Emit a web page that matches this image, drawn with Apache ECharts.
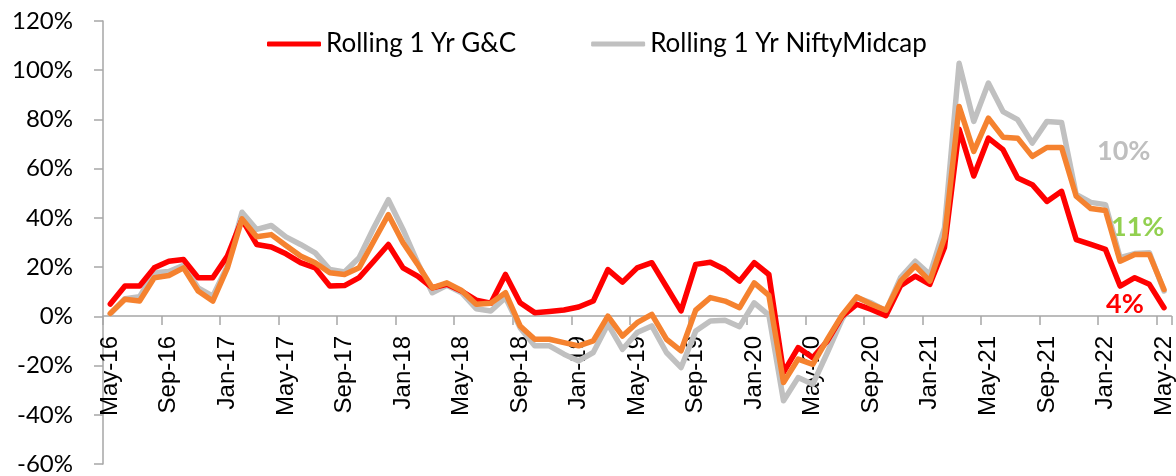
<!DOCTYPE html>
<html>
<head>
<meta charset="utf-8">
<script src="https://cdn.jsdelivr.net/npm/echarts@6/dist/echarts.min.js"></script>
<style>
  html, body { margin: 0; padding: 0; background: #fff; }
  #chart { width: 1176px; height: 476px; }
</style>
</head>
<body>
<div id="chart"></div>
<script>
// month labels May-16 .. May-22
const monthNames = ['Jan','Feb','Mar','Apr','May','Jun','Jul','Aug','Sep','Oct','Nov','Dec'];
const categories = [];
for (let k = 0; k < 73; k++) {
  const m = (4 + k) % 12;
  const yr = 16 + Math.floor((4 + k) / 12);
  categories.push(monthNames[m] + '-' + yr);
}

const gcValues = [5, 12.3, 12.3, 19.7, 22.4, 23.1, 15.7, 15.7, 24.5, 39.3,
  29.2, 28.2, 25.4, 21.8, 19.7, 12.3, 12.5, 15.7, 22.4, 29.2,
  19.7, 16.3, 11.6, 13, 10.3, 6.6, 5.3, 17, 5.5, 1.5,
  2, 2.6, 3.8, 6.2, 19, 13.9, 19.7, 21.8, 12, 2.2,
  21.1, 22, 19, 14.3, 21.8, 17, -22.8, -12.7, -16.8, -10,
  0, 4.9, 2.8, 0.3, 12.5, 16.3, 13, 28, 76, 57,
  72.4, 67.7, 56.2, 53.5, 46.7, 50.8, 31.2, 29.2, 27.2, 12.3,
  15.7, 13, 3.5];

const blendValues = [1.2, 6.9, 6.2, 15.7, 16.6, 19.7, 10.3, 6.2, 19.7, 39.6,
  32.3, 33.2, 28.8, 24.5, 21.8, 17.7, 17, 19.7, 30.5, 41.3,
  29.9, 21.1, 11.6, 13.6, 10.5, 4.9, 5.3, 9.6, -3.9, -9.3,
  -9.3, -10.7, -12, -10, 0.1, -8, -2.6, 0.8, -9.3, -14,
  2.5, 7.6, 6.2, 3.5, 13.6, 8.5, -26.9, -17.4, -19.5, -9.3,
  0.5, 7.9, 4.9, 2.5, 14.3, 20.5, 14.3, 32, 85.3, 67,
  80.5, 72.8, 72.4, 65, 68.6, 68.6, 48.8, 43.8, 43, 22.4,
  25.1, 25.1, 10.9];

const midcapValues = [1, 7.2, 8, 17.7, 18.2, 20.7, 11.6, 8.2, 20.5, 42.3,
  35.3, 36.9, 32.3, 29.2, 25.8, 19, 18, 23.8, 36, 47.4,
  35.3, 21.8, 9.6, 12.6, 9.6, 3.1, 2.2, 7.6, -4.6, -12,
  -12, -15.4, -18.1, -14.7, -3.2, -13.4, -6.6, -3.9, -14.7, -20.8,
  -6, -1.9, -1.6, -4.2, 5.5, 0.5, -34.3, -24.9, -27.6, -14.7,
  -1.2, 7.6, 5.5, 2.2, 15.7, 22.4, 17, 36, 102.8, 79.2,
  94.8, 83.2, 79.9, 70.4, 79.2, 78.8, 49.5, 46.3, 45.4, 23.8,
  25.5, 25.8, 10.3];

const endLabels = ['10%', '11%', '4%'];

const chart = echarts.init(document.getElementById('chart'));
const axisGrey = '#A6A6A6';
const labelFont = { fontFamily: 'Lato', fontWeight: 'bold', fontSize: 27 };
// plot spans 120%..-60% over 444px, so the 0% line sits 148px above the bottom
const zeroOffset = -148;
const option = {
  animation: false,
  grid: { left: 103, right: 4, top: 21, bottom: 11, containLabel: false },
  legend: {
    left: 262, top: 26,
    data: ['Rolling 1 Yr G&C', 'Rolling 1 Yr NiftyMidcap'],
    icon: 'roundRect',
    itemWidth: 54, itemHeight: 5,
    itemGap: 75,
    textStyle: { fontFamily: 'Lato', fontSize: 26, color: '#000' }
  },
  xAxis: {
    type: 'category',
    data: categories,
    boundaryGap: true,
    position: 'bottom',
    offset: zeroOffset,
    axisLine: { show: true, onZero: false, lineStyle: { color: axisGrey, width: 1.5 } },
    axisTick: { show: true, interval: 3, length: 9, lineStyle: { color: axisGrey, width: 1.5 } },
    axisLabel: {
      interval: 3, rotate: 90, margin: 20,
      fontFamily: 'Liberation Sans', fontSize: 24, color: '#000'
    },
    splitLine: { show: false }
  },
  yAxis: {
    type: 'value',
    min: -60, max: 120, interval: 20,
    axisLine: { show: true, lineStyle: { color: axisGrey, width: 1.5 } },
    axisTick: { show: true, length: 9, lineStyle: { color: axisGrey, width: 1.5 } },
    axisLabel: {
      formatter: '{value}%', margin: 30,
      fontFamily: 'Lato', fontSize: 24, color: '#000'
    },
    splitLine: { show: false }
  },
  series: [
    {
      name: 'Rolling 1 Yr NiftyMidcap', type: 'line', data: midcapValues,
      symbol: 'none', color: '#C0C0C0',
      lineStyle: { width: 5.5, color: '#C0C0C0', join: 'round', cap: 'round' }
    },
    {
      name: 'Rolling 1 Yr G&C', type: 'line', data: gcValues,
      symbol: 'none', color: '#FF0000',
      lineStyle: { width: 5.5, color: '#FF0000', join: 'round', cap: 'round' }
    },
    {
      name: 'Rolling 1 Yr Blend', type: 'line', data: blendValues,
      symbol: 'none', color: '#F5822F',
      lineStyle: { width: 5.5, color: '#F5822F', join: 'round', cap: 'round' }
    }
  ],
  graphic: [
    { type: 'text', left: 1097, top: 138, style: Object.assign({ text: endLabels[0], fill: '#BFBFBF' }, labelFont) },
    { type: 'text', left: 1111, top: 214, style: Object.assign({ text: endLabels[1], fill: '#92D050' }, labelFont) },
    { type: 'text', left: 1106, top: 291, style: Object.assign({ text: endLabels[2], fill: '#FF0000' }, labelFont) }
  ]
};
chart.setOption(option);
</script>
</body>
</html>
